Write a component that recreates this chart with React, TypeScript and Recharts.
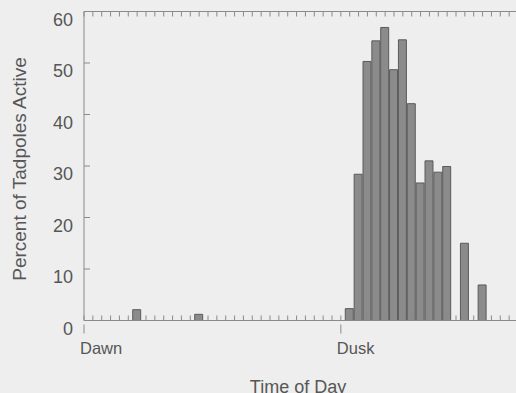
import { BarChart, Bar, XAxis, YAxis } from 'recharts';

// half-hour bins counted from dawn, and percent active in each
const BINS = [6, 13, 30, 31, 32, 33, 34, 35, 36, 37, 38, 39, 40, 41, 43, 45];
const PERCENT = [2.1, 1.2, 2.3, 28.4, 50.3, 54.3, 56.9, 48.7, 54.5, 42.1, 26.7, 31.0, 28.8, 29.9, 15.0, 6.9];

const Y_TICKS = [0, 10, 20, 30, 40, 50, 60];
const LANDMARK_TICKS = [0, 29];
const LANDMARK_LABELS = ['Dawn', 'Dusk'];
const X_MAX = 49;
const MINOR_TICKS = Array.from({ length: X_MAX + 1 }, (_, i) => i);

const data = BINS.map((t, i) => ({ t, pct: PERCENT[i] }));

const FONT = '"Liberation Sans", Arial, sans-serif';
const TEXT = '#565656';
const AXIS = '#8a8a8a';
const BG = '#eeeeee';

// tick lines only, no labels
const NoLabel = () => <g />;

const YTick = (props: any) => {
  const { x, y, payload } = props;
  return (
    <g>
      <line x1={x + 12} x2={x + 18} y1={y} y2={y} stroke={AXIS} />
      <text x={x + 1} y={y + 8} dy="0.355em" textAnchor="end" fontSize={18} fill={TEXT} fontFamily={FONT}>
        {payload.value}
      </text>
    </g>
  );
};

const LandmarkTick = (props: any) => {
  const { x, y, payload, index } = props;
  return (
    <g>
      <line x1={x} x2={x} y1={y + 4} y2={y + 13} stroke={AXIS} />
      <text x={x - 4} y={y + 33} textAnchor="start" fontSize={16.5} fill={TEXT} fontFamily={FONT}>
        {LANDMARK_LABELS[index] ?? payload.value}
      </text>
    </g>
  );
};

export default function App() {
  return (
    <div style={{ position: 'fixed', left: 0, top: 0, width: 516, height: 393, overflow: 'hidden', background: BG }}>
      <BarChart
        width={530}
        height={393}
        data={data}
        margin={{ top: 11.5, right: 12, bottom: 12.5, left: 0 }}
      >
        <XAxis
          dataKey="t"
          type="number"
          domain={[0, X_MAX]}
          allowDataOverflow
          ticks={MINOR_TICKS}
          interval={0}
          height={1}
          mirror
          tick={<NoLabel />}
          tickSize={5}
          stroke={AXIS}
        />
        <XAxis
          xAxisId="top"
          dataKey="t"
          type="number"
          orientation="top"
          domain={[0, X_MAX]}
          allowDataOverflow
          ticks={MINOR_TICKS}
          interval={0}
          height={1}
          mirror
          tick={<NoLabel />}
          tickSize={5}
          stroke={AXIS}
        />
        <XAxis
          xAxisId="lbl"
          dataKey="t"
          type="number"
          domain={[0, X_MAX]}
          allowDataOverflow
          ticks={LANDMARK_TICKS}
          interval={0}
          height={60}
          axisLine={false}
          tickLine={false}
          tickSize={0}
          tickMargin={0}
          tick={<LandmarkTick />}
          label={(p: any) => {
            const vb = p.viewBox;
            return (
              <text
                x={vb.x + vb.width / 2 - 3}
                y={vb.y + 72}
                textAnchor="middle"
                fontSize={18}
                fill={TEXT}
                fontFamily={FONT}
              >
                Time of Day
              </text>
            );
          }}
        />
        <YAxis
          domain={[0, 60]}
          ticks={Y_TICKS}
          interval={0}
          width={84}
          tickLine={false}
          tickSize={0}
          tickMargin={12}
          tick={<YTick />}
          stroke={AXIS}
          label={() => (
            <text
              x={26}
              y={169}
              transform="rotate(-90 26 169)"
              textAnchor="middle"
              fontSize={19}
              fill={TEXT}
              fontFamily={FONT}
            >
              Percent of Tadpoles Active
            </text>
          )}
        />
        <YAxis
          yAxisId="r"
          orientation="right"
          domain={[0, 60]}
          ticks={Y_TICKS}
          interval={0}
          width={1}
          mirror
          tick={<NoLabel />}
          tickSize={6}
          stroke={AXIS}
        />
        <Bar
          dataKey="pct"
          fill="#8b8b8b"
          stroke="#5a5a5a"
          strokeWidth={1}
          barSize={9}
          isAnimationActive={false}
        />
      </BarChart>
    </div>
  );
}
